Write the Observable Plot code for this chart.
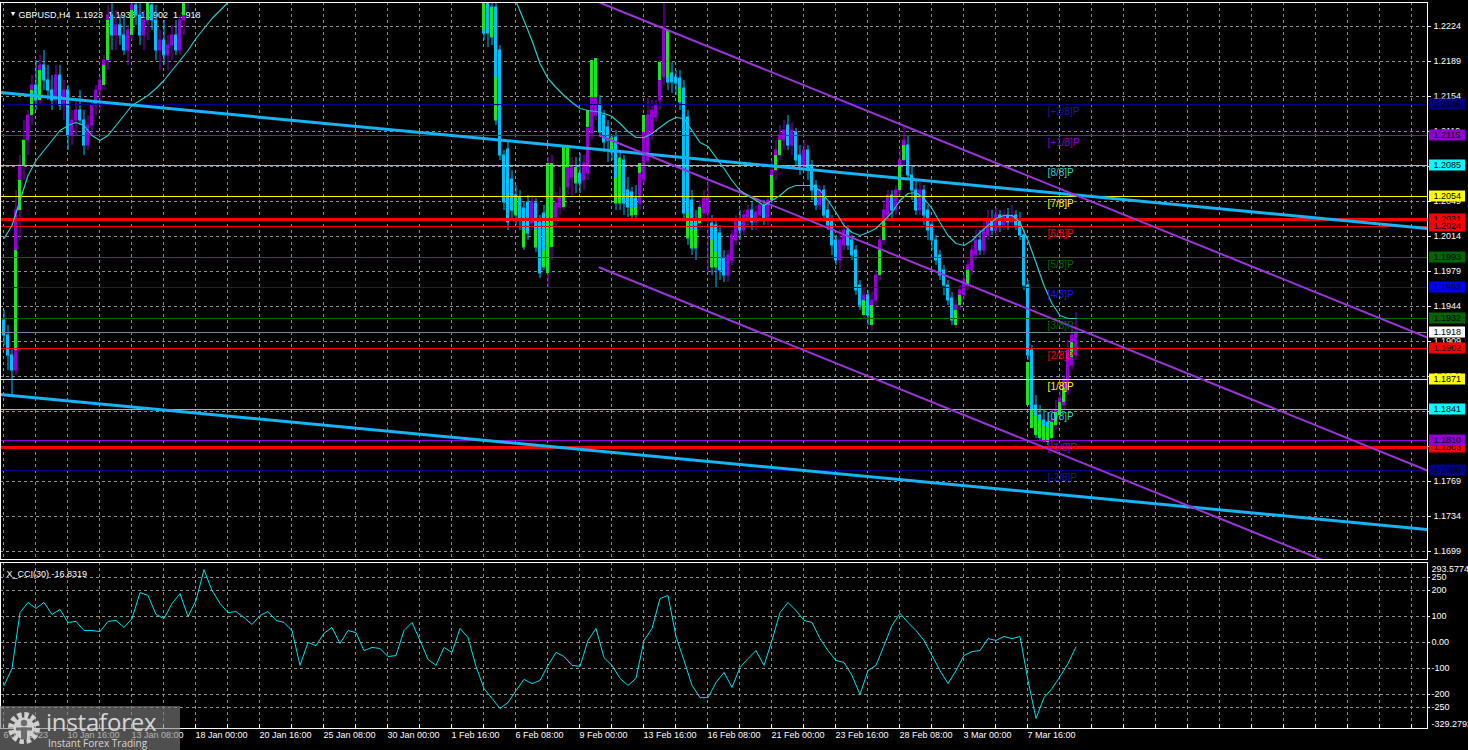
<!DOCTYPE html>
<html><head><meta charset="utf-8">
<script src="https://cdn.jsdelivr.net/npm/d3@7"></script>
<script src="https://cdn.jsdelivr.net/npm/@observablehq/plot@0.6"></script>
<style>
html,body{margin:0;padding:0;background:#000;overflow:hidden}
#chart{position:relative;width:1468px;height:750px;background:#000;overflow:hidden}
#chart > svg{position:absolute;left:0}
svg text{white-space:pre}
#wm{position:absolute;left:0;top:706px;width:180px;height:44px;background:rgba(128,128,128,0.62);overflow:hidden}
#wm .t1{position:absolute;left:46px;top:4px;font:24px "Open Sans",sans-serif;line-height:24px;color:#d6d6d6;letter-spacing:-0.2px}
#wm .t2{position:absolute;left:48px;top:32px;font:10px "Open Sans",sans-serif;line-height:10px;color:#d6d6d6}
</style></head>
<body><div id="chart"></div>
<script>
// ---------- DATA (prices in pips above 1.0000, i.e. 2091 = 1.2091) ----------
const symbolHeader = "GBPUSD,H4  1.1923  1.1938  1.1902  1.1918";
const cciHeader = "X_CCI(30) -16.8319";

const barOpen = [1930,1915,1895,1880,2040,2085,2110,2135,2165,2150,2185,2170,2160,2150,2175,2145,2160,2115,2130,2140,2130,2105,2125,2145,2160,2170,2190,2235,2215,2225,2215,2200,2220,2245,2235,2215,2230,2245,2230,2200,2210,2195,2205,2215,2200,2230,2255,2280,
2290,2310,2300,2350,2410,2390,2395,2370,2385,2400,2390,2395,2390,2380,2375,2385,2405,2400,2395,2410,2430,2410,2380,2370,2375,2350,2310,2290,2330,2320,2325,2335,2310,2320,2360,2380,2385,2390,2410,2380,2390,2400,2395,2380,2370,2395,2400,2395,2400,2380,2350,2360,2375,2350,2345,2310,2290,2320,2340,2320,2325,2335,2310,2330,2350,2370,2410,2390,2370,2350,2330,2310,
2255,2250,2243,2243,2200,2095,2101,2071,2055,2053,2042,2048,2027,2047,2028,2037,2003,2010,2033,2043,2043,2063,2073,2077,2077,2070,2077,2117,2135,2145,2135,2123,2112,2113,2092,2090,2060,2058,2052,2047,2070,2090,2117,2133,2150,2173,2183,2177,2173,2172,2162,2133,2050,2030,2027,2037,2037,2027,2025,2017,
1992,1975,1990,2010,2030,2020,2030,2040,2028,2035,2045,2030,2050,2080,2095,2110,2125,2105,2118,2095,2085,2100,2085,2065,2045,2060,2040,2030,2010,1990,2005,2020,2010,2000,1965,1945,1955,1935,1950,1975,2010,2035,2055,2040,2060,2090,2105,2075,2060,2040,2060,2040,2025,2010,1995,1980,1965,1952,1930,1945,1955,1965,1980,1995,2010,2000,2015,2030,2020,2035,2025,2035,2028,2035,2028,2015,1965,1900,1845,1835,1830,1828,1815,1825,1838,1845,1860,1885,1895];
const barHigh = [1940,1925,1900,2060,2095,2130,2140,2175,2190,2195,2200,2185,2175,2185,2185,2170,2165,2140,2150,2160,2140,2135,2150,2165,2175,2195,2245,2250,2240,2235,2235,2225,2260,2270,2255,2240,2255,2275,2245,2220,2230,2215,2225,2230,2235,2265,2290,2300,
2320,2330,2360,2420,2435,2410,2405,2395,2410,2420,2405,2400,2400,2395,2395,2415,2420,2410,2420,2440,2445,2425,2395,2385,2385,2365,2330,2340,2350,2335,2345,2350,2330,2370,2390,2395,2400,2420,2425,2400,2410,2410,2405,2395,2400,2420,2415,2405,2410,2395,2375,2385,2390,2360,2355,2330,2330,2350,2360,2335,2345,2350,2340,2360,2380,2425,2420,2400,2385,2360,2345,2320,
2265,2258,2250,2250,2205,2100,2110,2080,2065,2060,2048,2055,2055,2052,2035,2045,2093,2095,2058,2063,2105,2105,2093,2093,2097,2095,2140,2192,2192,2155,2140,2130,2115,2120,2098,2095,2073,2063,2065,2087,2135,2152,2150,2150,2190,2247,2220,2188,2180,2180,2170,2140,2060,2040,2050,2060,2070,2035,2030,2025,
2000,2000,2020,2035,2040,2040,2045,2048,2045,2050,2050,2055,2090,2110,2125,2130,2135,2128,2122,2105,2110,2105,2090,2070,2065,2065,2048,2035,2015,2020,2030,2025,2015,2005,1970,1962,1960,1958,1980,2015,2050,2060,2060,2065,2100,2125,2115,2085,2070,2068,2065,2045,2032,2015,2000,1985,1970,1958,1950,1965,1975,1990,2005,2020,2020,2030,2040,2040,2042,2040,2040,2042,2045,2040,2038,2020,1970,1905,1855,1845,1840,1838,1840,1850,1860,1875,1910,1925,1938];
const barLow = [1905,1880,1855,1875,2010,2070,2095,2125,2140,2145,2160,2150,2140,2145,2140,2130,2100,2105,2115,2125,2095,2100,2115,2135,2140,2160,2180,2200,2200,2205,2195,2185,2210,2225,2205,2200,2210,2220,2190,2180,2185,2180,2190,2195,2195,2215,2240,2265,
2280,2295,2295,2340,2380,2380,2360,2350,2370,2380,2375,2380,2370,2365,2360,2380,2385,2390,2390,2400,2400,2370,2355,2360,2340,2300,2265,2280,2310,2310,2310,2300,2290,2315,2345,2370,2375,2380,2370,2355,2380,2385,2370,2360,2365,2380,2385,2385,2370,2340,2335,2350,2340,2335,2300,2270,2280,2305,2310,2310,2310,2300,2290,2320,2340,2360,2380,2360,2340,2320,2300,2265,
2210,2203,2205,2125,2090,2040,2020,2030,2025,2020,2000,2010,2020,1998,1972,1980,1963,1990,2023,2035,2040,2055,2053,2057,2057,2060,2070,2110,2130,2115,2098,2088,2090,2040,2040,2035,2033,2030,2032,2040,2065,2085,2110,2128,2140,2165,2160,2157,2155,2140,2030,2005,1995,1990,2020,2030,1977,1975,1963,1970,
1968,1968,1985,2005,2010,2015,2025,2020,2020,2030,2025,2025,2045,2070,2090,2100,2100,2095,2085,2075,2080,2070,2050,2040,2040,2030,2020,1995,1985,1980,2000,2000,1990,1955,1940,1932,1925,1920,1945,1970,2005,2030,2030,2035,2055,2085,2070,2050,2035,2035,2025,2010,2000,1985,1970,1955,1945,1925,1922,1940,1950,1960,1975,1990,1995,1995,2010,2015,2015,2018,2020,2020,2022,2020,2010,1960,1890,1825,1812,1810,1808,1805,1803,1820,1830,1840,1855,1880,1890];
const barClose = [1915,1895,1880,2040,2085,2110,2135,2165,2150,2185,2170,2160,2150,2175,2145,2160,2115,2130,2140,2130,2105,2125,2145,2160,2170,2190,2235,2215,2225,2215,2200,2220,2245,2235,2215,2230,2245,2230,2200,2210,2195,2205,2215,2200,2230,2255,2280,2290,
2310,2300,2350,2410,2390,2395,2370,2385,2400,2390,2395,2390,2380,2375,2385,2405,2400,2395,2410,2430,2410,2380,2370,2375,2350,2310,2290,2330,2320,2325,2335,2310,2320,2360,2380,2385,2390,2410,2380,2390,2400,2395,2380,2370,2395,2400,2395,2400,2380,2350,2360,2375,2350,2345,2310,2290,2320,2340,2320,2325,2335,2310,2330,2350,2370,2410,2390,2370,2350,2330,2310,2280,
2217,2217,2213,2130,2095,2048,2028,2040,2035,2030,2003,2017,2048,2003,1977,1983,2047,2050,2047,2053,2087,2087,2082,2067,2067,2087,2122,2153,2153,2118,2108,2110,2098,2047,2047,2047,2043,2035,2037,2077,2118,2135,2140,2145,2188,2220,2168,2168,2167,2148,2037,2012,2002,2002,2043,2052,2053,1983,1983,1980,
1975,1995,2015,2030,2020,2035,2040,2028,2038,2045,2030,2050,2080,2100,2115,2120,2105,2120,2090,2085,2100,2080,2060,2045,2060,2035,2025,2005,1990,2010,2020,2005,1995,1960,1945,1955,1935,1950,1975,2010,2040,2055,2040,2060,2090,2110,2075,2060,2040,2060,2035,2020,2010,1990,1975,1965,1950,1930,1945,1960,1970,1985,2000,2010,2000,2020,2030,2020,2035,2025,2035,2028,2035,2025,2015,1965,1895,1830,1820,1818,1815,1815,1830,1840,1852,1870,1900,1915,1918];

// lime (regular-candle) body segments visible beside the coloured bodies
const greenBar = [3,4,5,7,9,25,26,32,36,45,120,122,123,128,130,133,135,136,137,140,141,143,146,147,148,152,153,154,157,158,159,160,164,166,169,171,172,173,174,177,178,192,193,194,215,217,219,220,224,225,238,239,241,256,257,258,259,260,261,262,263,264,265,267];
const greenHi  = [2000,2070,2110,2160,2180,2185,2230,2240,2250,2250,2250,2243,2173,2055,2020,2020,2000,2087,2087,2103,2103,2083,2140,2190,2192,2112,2073,2092,2043,2043,2087,2135,2188,2220,2163,2037,2020,2020,2043,2010,1998,2075,2095,2110,1950,1945,2000,2030,2085,2105,1940,1955,1980,1888,1840,1835,1830,1825,1822,1828,1838,1848,1862,1908];
const greenLo  = [1900,2040,2085,2135,2150,2165,2190,2215,2230,2235,2220,2213,2130,2035,2003,2003,1983,1977,2003,2043,2083,2067,2123,2153,2153,2098,2047,2047,2035,2035,2077,2118,2170,2173,2148,2012,2002,2002,2027,1983,1983,2050,2080,2095,1935,1925,1975,2010,2060,2090,1925,1945,1965,1845,1822,1815,1812,1810,1808,1812,1825,1835,1848,1893];

// moving average, one value every 2 bars (pips above 1.0000)
const maEvery = 2;
const maValues = [2012,2025,2050,2075,2090,2100,2110,2120,2125,2128,2125,2115,2110,2115,2125,2135,2145,2150,2155,2162,2170,2180,2190,2200,2212,2222,2232,2240,2248,
2258,2270,2282,2293,2303,2313,2322,2330,2337,2343,2348,2352,2356,2360,2363,2366,2368,2370,2371,2372,2372,2371,2369,2366,2362,2358,2354,2350,2346,2341,2335,2320,2302,2285,2267,
2249,2230,2210,2187,2172,2163,2155,2148,2142,2140,2139,2137,2134,2127,2119,2113,2113,2117,2123,2129,2133,2132,2120,2108,2104,2093,2082,2070,2060,2055,2050,2045,2050,2055,2062,2065,2065,2065,2060,2050,2038,2025,2018,2015,2018,2022,2030,2038,2050,2057,2058,2052,2042,2028,2015,2007,2005,2010,2018,2025,2032,2035,2035,2028,2010,1988,1965,1947,1935,1932,1932];

// CCI(30), one value every 2 bars
const cciEvery = 2;
const cciValues = [-165,-100,115,154,131,154,108,127,77,81,46,46,42,81,85,58,92,192,181,108,92,150,188,100,162,280,200,150,115,119,96,69,104,119,85,77,46,-88,0,-12,35,58,-4,46,38,-31,-19,-23,-54,-50,46,77,8,-65,-88,-19,-38,54,19,-92,-177,-215,-254,-231,-185,-142,-158,-146,-88,-38,-54,-88,-92,8,54,-58,-88,-138,-165,-138,8,54,169,181,23,-69,-165,-212,-212,-154,-115,-173,-96,-62,-31,-88,8,115,154,123,85,77,15,-31,-69,-77,-127,-200,-108,-88,-12,65,112,77,46,8,-50,-108,-158,-108,-50,-35,-31,15,8,23,15,23,-146,-292,-212,-177,-131,-81,-16.8319];
const cciTicks = [250,200,100,0,-100,-200,-250];
const cciMax = 293.5774, cciMin = -329.2792;

// price axis
const priceTicks = [1.2224,1.2189,1.2154,1.2119,1.2084,1.2049,1.2014,1.1979,1.1944,1.1909,1.1874,1.1839,1.1804,1.1769,1.1734,1.1699];

// time axis
const timeLabelBars = [0,16,32,48,64,80,96,112,128,144,160,176,192,208,224,240,256];
const timeLabels = ["6 Jan 2023","10 Jan 16:00","13 Jan 08:00","18 Jan 00:00","20 Jan 16:00","25 Jan 08:00","30 Jan 00:00","1 Feb 16:00","6 Feb 08:00","9 Feb 00:00","13 Feb 16:00","16 Feb 08:00","21 Feb 00:00","23 Feb 16:00","28 Feb 08:00","3 Mar 00:00","7 Mar 16:00"];

// Murrey math levels
const murreyNames = ["[+2/8]P","[+1/8]P","[8/8]P","[7/8]P","[6/8]P","[5/8]P","[4/8]P","[3/8]P","[2/8]P","[1/8]P","[0/8]P","[-1/8]P","[-2/8]P"];
const murreyPrices = [1.2146,1.2115,1.2085,1.2054,1.2024,1.1993,1.1963,1.1932,1.1902,1.1871,1.1841,1.1810,1.1780];
const srPrices = [1.2031,1.1803];
const bidPrice = 1.1918;

// right-hand price tags (drawn in this order)
const tagPrices = [1.2146,1.2115,1.2085,1.2054,1.2031,1.2024,1.1993,1.1963,1.1932,1.1918,1.1902,1.1871,1.1841,1.1803,1.1810,1.1780];

// trend lines (bar index, price)
const trendTop = [{i:-0.875,p:1.2158},{i:355.875,p:1.2022}];
const trendBottom = [{i:-0.875,p:1.1856},{i:355.875,p:1.1721}];
const channelUpper = [{i:148.875,p:1.2248},{i:355.875,p:1.1913}];
const channelMiddle = [{i:148.875,p:1.2115},{i:355.875,p:1.1780}];
const channelLower = [{i:148.875,p:1.1983},{i:355.875,p:1.1648}];

// ---------- STYLE ----------
const UP = "#9400D3", DOWN = "#00BFFF", LIME = "#1ee61e", GRID = "#8f8f8f", MA = "#2cc8c8", CCI = "#00e0ea";
const TREND = "#16b4f5", CHANNEL = "#9a35d8";
const murreyColors = ["#000090","#9400D3","#00FFFF","#FFFF00","#FF0000","#007000","#0000FF","#007000","#FF0000","#FFFF00","#00FFFF","#9400D3","#000090"];
const murreyTextColors = ["#1818b0","#9400D3","#30d0d0","#FFFF00","#FF0000","#006a00","#1a1aff","#006a00","#FF0000","#FFFF00","#30d0d0","#9400D3","#1818b0"];
const tagColors = {"1.2146":"#000080","1.2115":"#9400D3","1.2085":"#00FFFF","1.2054":"#FFFF00","1.2031":"#FF0000","1.2024":"#FF0000","1.1993":"#006400","1.1963":"#0000FF","1.1932":"#006400","1.1918":"#FFFFFF","1.1902":"#FF0000","1.1871":"#FFFF00","1.1841":"#00FFFF","1.1803":"#FF0000","1.1810":"#9400D3","1.1780":"#000080"};
const X0 = -0.875, X1 = 355.875;
const LABEL_BAR = 260.9;
const FONT = "Liberation Sans, Arial, sans-serif";

// ---------- BUILD ----------
const P = v => 1 + v / 10000;
const candles = barOpen.map((o, i) => ({i, o: P(o), h: P(barHigh[i]), l: P(barLow[i]), c: P(barClose[i])}));
const candleColor = d => d.c >= d.o ? UP : DOWN;
const greens = greenBar.map((b, k) => ({i: b, hi: P(greenHi[k]), lo: P(greenLo[k])}));
const maData = maValues.map((v, k) => ({i: k * maEvery, p: P(v)}));
const cciData = cciValues.map((v, k) => ({i: k * cciEvery, v}));
const gridBars = d3.range(0, 356, 8);
const chart = document.getElementById("chart");

const tagMarks = tagPrices.flatMap(p => [
  Plot.rect([p], {x1: X1 + 0.5, x2: X1 + 9.5, y1: d => d - 0.00055, y2: d => d + 0.00055, fill: tagColors[p.toFixed(4)]}),
  Plot.text([p], {x: X1 + 0.5, dx: 4, y: d => d, text: d => d.toFixed(4), fill: "#000", textAnchor: "start", fontSize: 9})
]);

const main = Plot.plot({
  width: 1468, height: 557, marginLeft: 0, marginRight: 41, marginTop: 0, marginBottom: 0,
  x: {domain: [X0, X1], axis: null},
  y: {domain: [1.1691, 1.2248], axis: null},
  style: {background: "#000", color: "#fff", fontFamily: FONT, fontSize: "9px", overflow: "visible"},
  marks: [
    Plot.ruleY(priceTicks, {y: d => d, stroke: GRID, strokeDasharray: "3,3"}),
    Plot.ruleX(gridBars, {x: d => d, dx: -0.5, stroke: GRID, strokeDasharray: "3,3"}),
    Plot.text(["\u25BC"], {frameAnchor: "top-left", dx: 9, dy: 9, fontSize: 7, fill: "#fff"}),
    Plot.text([symbolHeader], {frameAnchor: "top-left", dx: 18, dy: 9, textAnchor: "start", fill: "#fff", fontSize: 9}),
    Plot.ruleX(candles, {x: "i", y1: "l", y2: "h", stroke: candleColor, clip: true}),
    Plot.rect(candles, {x1: d => d.i - 0.375, x2: d => d.i + 0.375, y1: "o", y2: "c", fill: candleColor, insetTop: -0.5, insetBottom: -0.5, clip: true}),
    Plot.rect(greens, {x1: d => d.i - 0.375, x2: d => d.i + 0.375, y1: "lo", y2: "hi", fill: LIME, clip: true}),
    Plot.ruleY(murreyPrices, {y: d => d, stroke: (d, i) => murreyColors[i], strokeWidth: 1}),
    Plot.ruleY(srPrices, {y: d => d, stroke: "#FF0000", strokeWidth: 3}),
    Plot.ruleY([bidPrice], {y: d => d, stroke: "#778899"}),
    Plot.line(trendTop, {x: "i", y: "p", stroke: TREND, strokeWidth: 3, clip: true}),
    Plot.line(trendBottom, {x: "i", y: "p", stroke: TREND, strokeWidth: 3, clip: true}),
    Plot.line(channelUpper, {x: "i", y: "p", stroke: CHANNEL, strokeWidth: 2, clip: true}),
    Plot.line(channelMiddle, {x: "i", y: "p", stroke: CHANNEL, strokeWidth: 2, clip: true}),
    Plot.line(channelLower, {x: "i", y: "p", stroke: CHANNEL, strokeWidth: 2, clip: true}),
    Plot.line(maData, {x: "i", y: "p", stroke: MA, strokeWidth: 1.2, clip: true}),
    Plot.text(murreyNames, {x: LABEL_BAR, y: (d, i) => murreyPrices[i], dy: 7, text: d => d, fill: (d, i) => murreyTextColors[i], textAnchor: "start", fontSize: 10}),
    Plot.frame({stroke: "#fff"}),
    Plot.ruleY(priceTicks, {y: d => d, x1: X1, x2: X1 + 1, stroke: "#fff"}),
    Plot.text(priceTicks, {x: X1, y: d => d, dx: 6, text: d => d.toFixed(4), textAnchor: "start", fill: "#fff", fontSize: 9}),
    ...tagMarks
  ]
});
main.style.top = "2px";
chart.appendChild(main);

const cciTop = 307.69, cciBottom = -330.77;
const cci = Plot.plot({
  width: 1468, height: 188, marginLeft: 0, marginRight: 41, marginTop: 0, marginBottom: 22,
  x: {domain: [X0, X1], axis: null},
  y: {domain: [cciBottom, cciTop], axis: null},
  style: {background: "#000", color: "#fff", fontFamily: FONT, fontSize: "9px", overflow: "visible"},
  marks: [
    Plot.ruleY(cciTicks, {y: d => d, stroke: GRID, strokeDasharray: "3,3"}),
    Plot.ruleX(gridBars, {x: d => d, dx: -0.5, stroke: GRID, strokeDasharray: "3,3"}),
    Plot.line(cciData, {x: "i", y: "v", stroke: CCI, strokeWidth: 1, clip: true}),
    Plot.text([cciHeader], {frameAnchor: "top-left", dx: 6, dy: 8, textAnchor: "start", fill: "#fff", fontSize: 9}),
    Plot.frame({stroke: "#fff"}),
    Plot.ruleY(cciTicks, {y: d => d, x1: X1, x2: X1 + 0.75, stroke: "#fff"}),
    Plot.text(cciTicks, {x: X1, y: d => d, dx: 4, text: d => d === 0 ? "0.00" : String(d), textAnchor: "start", fill: "#fff", fontSize: 9}),
    Plot.text([cciMax], {x: X1, y: d => d, dx: 4, dy: 3, text: d => d.toFixed(4), textAnchor: "start", fill: "#fff", fontSize: 9}),
    Plot.text([cciMin], {x: X1, y: d => d, dx: 4, dy: -4, text: d => d.toFixed(4), textAnchor: "start", fill: "#fff", fontSize: 9}),
    Plot.ruleX(gridBars, {x: d => d, dx: -0.5, y1: cciBottom, y2: cciBottom + 15, stroke: "#fff"}),
    Plot.text(timeLabels, {x: (d, i) => timeLabelBars[i], dx: -0.5, frameAnchor: "bottom", dy: 9, text: d => d, textAnchor: "start", fill: "#fff", fontSize: 9})
  ]
});
cci.style.top = "562px";
chart.appendChild(cci);

// watermark
const wm = document.createElement("div");
wm.id = "wm";
wm.innerHTML = `<svg width="46" height="44" style="position:absolute;left:2px;top:0">
  <circle cx="22" cy="22" r="13" fill="none" stroke="#d0d0d0" stroke-width="6" stroke-dasharray="4.2 2.6"/>
  <circle cx="22" cy="22" r="10.5" fill="#d0d0d0"/>
  <circle cx="22" cy="17" r="3.2" fill="#6c6c6c"/>
  <rect x="19" y="21.5" width="6" height="12" fill="#6c6c6c"/>
  <rect x="14" y="21.5" width="16" height="3" fill="#6c6c6c"/>
</svg><div class="t1">instaforex</div><div class="t2">Instant Forex Trading</div>`;
chart.appendChild(wm);
</script></body></html>
